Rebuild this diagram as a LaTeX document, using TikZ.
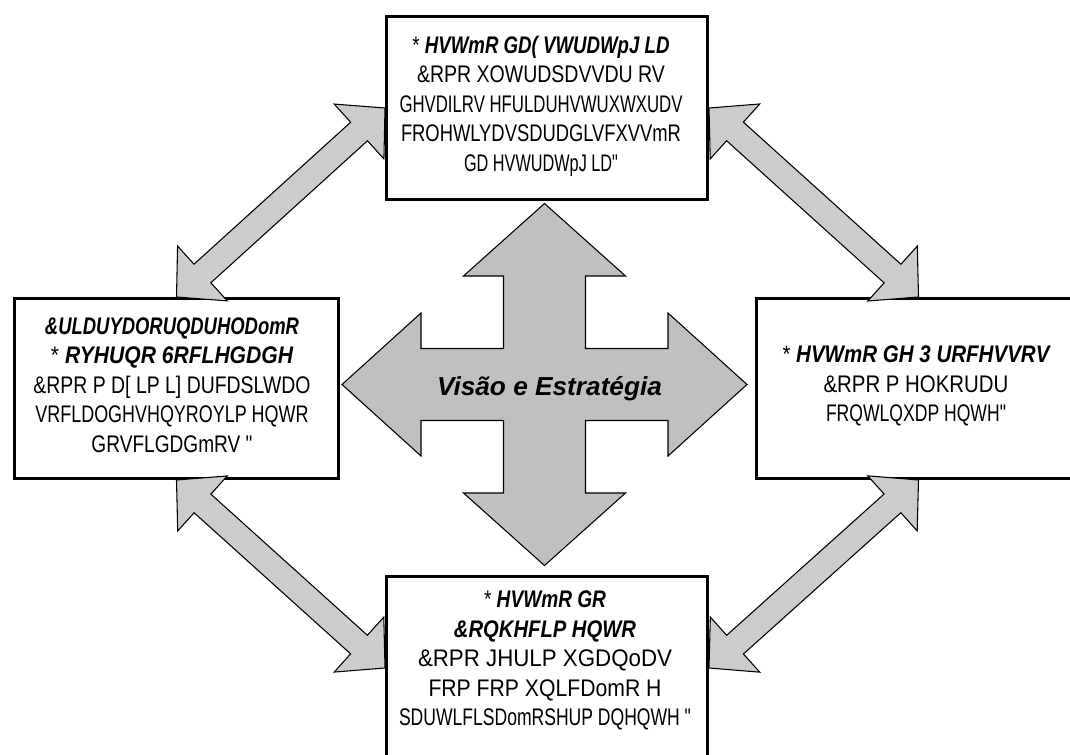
\documentclass[tikz,border=0pt]{standalone}
\usepackage{fontspec}
\setmainfont{Liberation Sans}[Ligatures=TeXOff]
\usepackage{graphicx}
\usetikzlibrary{calc}
\newdimen\pxu \pxu=0.75pt
\newcommand\fl[2]{\resizebox{#1\pxu}{\height}{#2}}
\newcommand\hd[2]{\resizebox{#1\pxu}{\height}{\bfseries\itshape #2}}
\newcommand\st{{\normalfont *}}
\definecolor{crossgray}{RGB}{192,192,192}
\definecolor{arrowgray}{RGB}{204,204,204}
\def\arhl{26.25pt}
\def\arhw{27.75pt}
\def\arsw{9.4pt}
\newcommand\dblarrow[2]{%
 \draw[darrow] (#1)
 -- ($(#1)!\arhl!(#2)!\arhw!90:(#2)$)
 -- ($(#1)!\arhl!(#2)!\arsw!90:(#2)$)
 -- ($(#2)!\arhl!(#1)!\arsw!-90:(#1)$)
 -- ($(#2)!\arhl!(#1)!\arhw!-90:(#1)$)
 -- (#2)
 -- ($(#2)!\arhl!(#1)!\arhw!90:(#1)$)
 -- ($(#2)!\arhl!(#1)!\arsw!90:(#1)$)
 -- ($(#1)!\arhl!(#2)!\arsw!-90:(#2)$)
 -- ($(#1)!\arhl!(#2)!\arhw!-90:(#2)$)
 -- cycle;}
\tikzset{
  box/.style={draw=black, line width=2.25pt, fill=white, inner sep=0pt, rectangle},
  txt/.style={align=center, inner sep=0pt, font=\fontsize{18}{22.1}\selectfont},
  darrow/.style={draw=black, line width=0.8pt, fill=arrowgray, line join=miter},
  crossshape/.style={draw=black, line width=0.8pt, fill=crossgray, line join=miter},
  centertxt/.style={inner sep=0pt, font=\fontsize{19.5}{23}\selectfont}
}
\begin{document}
\begin{tikzpicture}[x=0.75pt, y=-0.75pt]
\useasboundingbox (0,0) rectangle (1070,755);
\clip (0,0) rectangle (1070,755);
% boxes
\node[box, minimum width=240.75pt, minimum height=137.25pt] (top) at (547,108) {};
\node[box, minimum width=243pt, minimum height=135pt] (left) at (176.5,388.5) {};
\node[box, minimum width=243pt, minimum height=135pt] (right) at (918.5,388.5) {};
\node[box, minimum width=240.75pt, minimum height=137.25pt] (bottom) at (547,668) {};
% diagonal double arrows
\dblarrow{left.north}{top.west}
\dblarrow{top.east}{right.north}
\dblarrow{right.south}{bottom.east}
\dblarrow{left.south}{bottom.west}
% central cross
\coordinate (c) at (544.5,384.5);
\begin{scope}[shift={(c)}]
\draw[crossshape] (0,-181) -- (81,-108.5) -- (41,-108.5) -- (41,-36) -- (123.5,-36) -- (123.5,-71.5)
 -- (202.5,0) -- (123.5,71.5) -- (123.5,36) -- (41,36) -- (41,108.5) -- (81,108.5)
 -- (0,181) -- (-81,108.5) -- (-41,108.5) -- (-41,36) -- (-123.5,36) -- (-123.5,71.5)
 -- (-202.5,0) -- (-123.5,-71.5) -- (-123.5,-36) -- (-41,-36) -- (-41,-108.5) -- (-81,-108.5) -- cycle;
\end{scope}
\node[centertxt] (vision) at (549.5,389) {\hd{225}{Visão e Estratégia}};
% texts
\node[txt] (toptext) at (541,106) {%
\hd{257}{\st\ HVWmR GD( VWUDWpJ LD}\\
\fl{248}{\&RPR XOWUDSDVVDU RV}\\
\fl{283}{GHVDILRV HFULDUHVWUXWXUDV}\\
\fl{280}{FROHWLYDVSDUDGLVFXVVmR}\\
\fl{154}{GD HVWUDWpJ LD"}};
\node[txt] (lefttext) at (172,385) {%
\hd{254}{\&ULDUYDORUQDUHODomR}\\
\hd{242}{\st\ RYHUQR 6RFLHGDGH}\\
\fl{277}{\&RPR P D[ LP L] DUFDSLWDO}\\
\fl{273}{VRFLDOGHVHQYROYLP HQWR}\\
\fl{161}{GRVFLGDGmRV "}};
\node[txt] (righttext) at (916,386) {%
\hd{267}{\st\ HVWmR GH 3 URFHVVRV}\\
\fl{185}{\&RPR P HOKRUDU}\\
\fl{180}{FRQWLQXDP HQWH"}};
\node[txt] (bottomtext) at (545,660.5) {%
\hd{122}{\st\ HVWmR GR}\\
\hd{182}{\&RQKHFLP HQWR}\\
\fl{254}{\&RPR JHULP XGDQoDV}\\
\fl{233}{FRP FRP XQLFDomR H}\\
\fl{292}{SDUWLFLSDomRSHUP DQHQWH "}};
\end{tikzpicture}
\end{document}
